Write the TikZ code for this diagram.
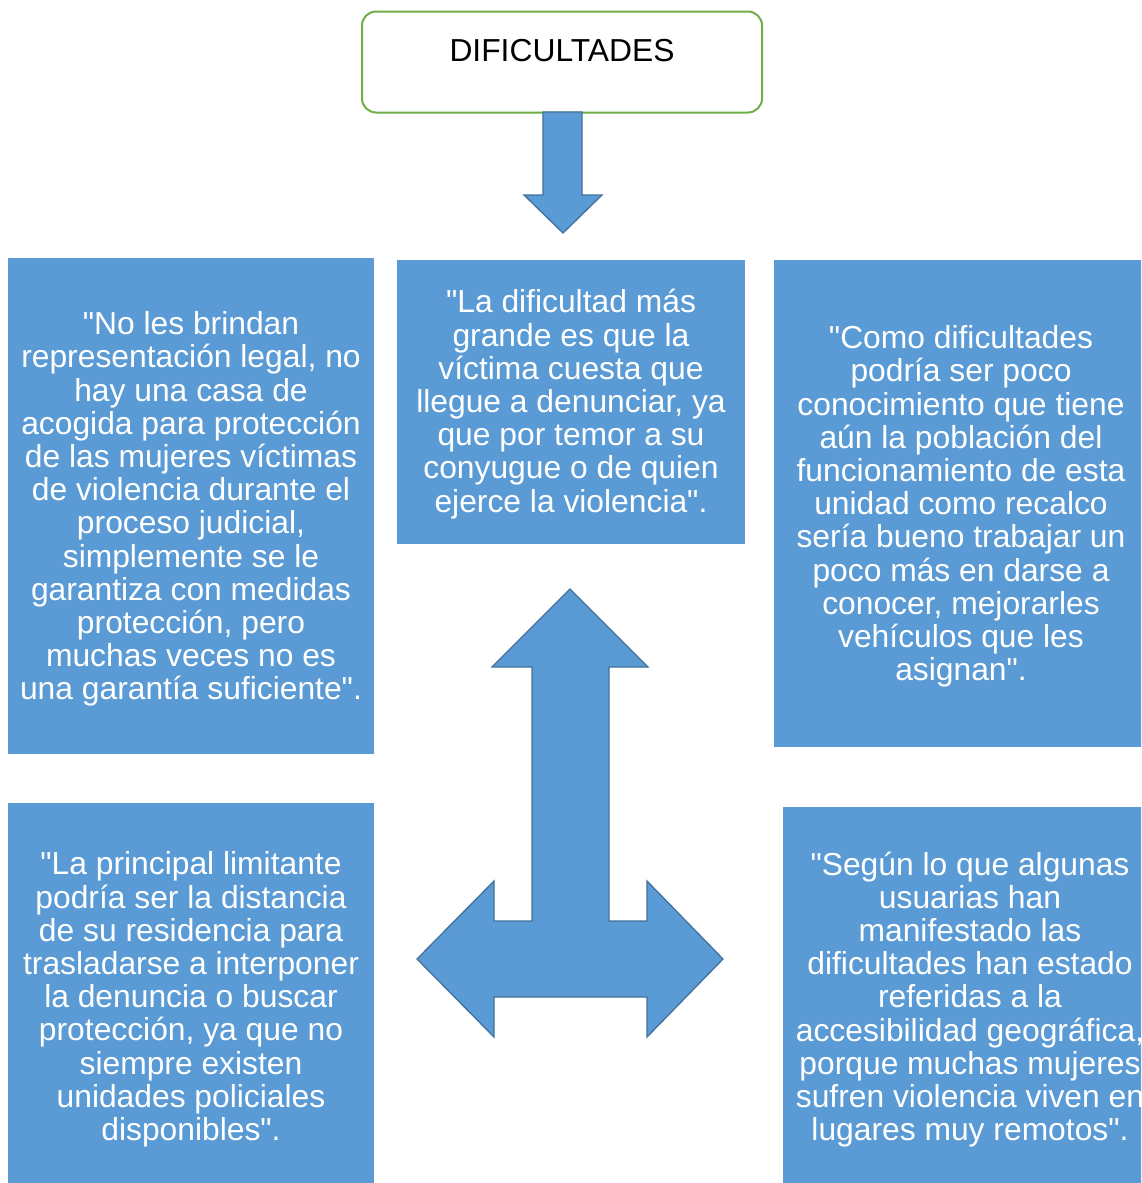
\documentclass[tikz,border=0pt]{standalone}
\usepackage{fontspec}
\setmainfont{Liberation Sans}[Ligatures=TeXOff]
\usetikzlibrary{calc}
\definecolor{boxblue}{HTML}{5B9BD5}
\definecolor{edgeblue}{HTML}{41719C}
\definecolor{frgreen}{HTML}{70AD47}
\begin{document}
\begin{tikzpicture}[x=1pt,y=-1pt,
  quote/.style={fill=boxblue, draw=none, inner sep=0pt},
  qtext/.style={text=white, align=center,
    font=\fontsize{31.8}{33.2}\selectfont, inner sep=0pt},
  titlebox/.style={draw=frgreen, line width=2pt, rounded corners=14pt, fill=white,
    minimum width=400pt, minimum height=101pt, inner sep=0pt,
    text height=23pt, text depth=24pt, font=\fontsize{31.8}{33.2}\selectfont},
  arrowshape/.style={fill=boxblue, draw=edgeblue, line width=1.3pt, line join=miter}]
\useasboundingbox (0,0) rectangle (1141,1183);
\clip (0,0) rectangle (1141,1183);
\fill[white] (0,0) rectangle (1141,1183);

\node[titlebox] (title) at (562,62) {DIFICULTADES};

\draw[arrowshape] (543,112) -- (582,112) -- (582,195) -- (602,195) -- (563,233)
  -- (524,195) -- (543,195) -- cycle;

\node[quote, minimum width=366pt, minimum height=496pt] (q1) at (191,506) {};
\node[qtext] (q1t) at ($(q1.center)+(0,3)$)
 {"No les brindan\\representación legal, no\\hay una casa de\\acogida para protección\\de las mujeres víctimas\\de violencia durante el\\proceso judicial,\\simplemente se le\\garantiza con medidas\\protección, pero\\muchas veces no es\\una garantía suficiente".};

\node[quote, minimum width=348pt, minimum height=284pt] (q2) at (571,402) {};
\node[qtext] (q2t) at ($(q2.center)+(0,2)$)
 {"La dificultad más\\grande es que la\\víctima cuesta que\\llegue a denunciar, ya\\que por temor a su\\conyugue o de quien\\ejerce la violencia".};

\node[quote, minimum width=374pt, minimum height=487pt] (q3) at (961,503.5) {};
\node[qtext] (q3t) at ($(q3.center)+(0,3)$)
 {"Como dificultades\\podría ser poco\\conocimiento que tiene\\aún la población del\\funcionamiento de esta\\unidad como recalco\\sería bueno trabajar un\\poco más en darse a\\conocer, mejorarles\\vehículos que les\\asignan".};

\node[quote, minimum width=366pt, minimum height=387pt] (q4) at (191,996.5) {};
\node[qtext] (q4t) at ($(q4.center)+(0,3)$)
 {"La principal limitante\\podría ser la distancia\\de su residencia para\\trasladarse a interponer\\la denuncia o buscar\\protección, ya que no\\siempre existen\\unidades policiales\\disponibles".};

\node[quote, minimum width=374pt, minimum height=379pt] (q5) at (970,996.5) {};
\node[qtext] (q5t) at ($(q5.center)+(0,3)$)
 {"Según lo que algunas\\usuarias han\\manifestado las\\dificultades han estado\\referidas a la\\accesibilidad geográfica,\\porque muchas mujeres\\sufren violencia viven en\\lugares muy remotos".};

\draw[arrowshape] (570,589) -- (648,667) -- (609,667) -- (609,921) -- (647,921)
  -- (647,881) -- (723,959) -- (647,1037) -- (647,997) -- (494,997) -- (494,1037)
  -- (417,959) -- (494,881) -- (494,921) -- (532,921) -- (532,667) -- (492,667) -- cycle;
\end{tikzpicture}
\end{document}
